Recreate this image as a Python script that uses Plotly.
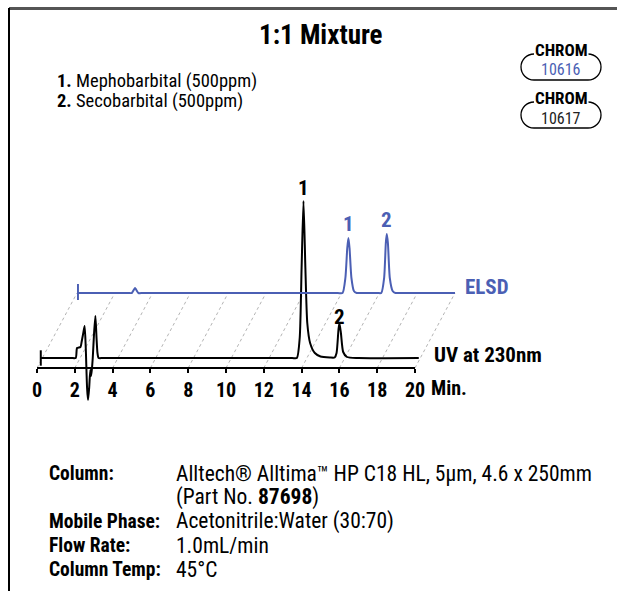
import plotly.graph_objects as go

# UV at 230nm trace (time in min, response in arbitrary units)
uv_time = [0.2, 1.8, 2.05, 2.12, 2.3, 2.36, 2.45, 2.52, 2.58, 2.65, 2.7, 2.76, 2.82, 2.86, 2.9,
           2.95, 3.02, 3.09, 3.15, 3.2, 3.26, 3.5, 13.5, 13.75, 13.9, 14.0, 14.1, 14.2, 14.3, 14.45,
           14.7, 15.0, 15.5, 15.75, 15.85, 15.95, 16.0, 16.08, 16.2, 16.4, 17.0, 20.2]
uv_resp = [0, 0, 0, 10, 11, 16, 25, 32, 10, -30, -42, -30, -12, -18, -12,
           0, 25, 42, 20, 5, 0, 0, 0, 0, 20, 90, 157, 90, 35, 15,
           5, 1.5, 0.5, 0.5, 5, 28, 35, 25, 6, 1, 0, 0]

# ELSD trace
elsd_time = [0.05, 2.7, 2.9, 3.0, 3.07, 3.14, 3.25, 3.5, 13.8, 14.05, 14.2, 14.3, 14.36, 14.42, 14.52,
             14.65, 14.8, 15.0, 15.9, 16.1, 16.25, 16.34, 16.39, 16.45, 16.55, 16.7, 16.85, 17.1, 20.0]
elsd_resp = [0, 0, 0, 3, 5, 3, 0, 0, 0, 0, 15, 45, 55, 45, 15,
             2, 0, 0, 0, 0, 15, 50, 59, 50, 15, 2, 0, 0, 0]

tick_vals = [0, 2, 4, 6, 8, 10, 12, 14, 16, 18, 20]

peak_names = ["1", "2"]
uv_peak_time = [14.1, 16.0]
uv_peak_resp = [157, 35]
elsd_peak_time = [14.36, 16.39]
elsd_peak_resp = [55, 59]

compounds = ["Mephobarbital (500ppm)", "Secobarbital (500ppm)"]
chrom_ids = ["10616", "10617"]

spec_labels = ["Column:", "", "Mobile Phase:", "Flow Rate:", "Column Temp:"]
spec_values = ["Alltech® Alltima™ HP C18 HL, 5µm, 4.6 x 250mm",
               "(Part No. <b>87698</b>)",
               "Acetonitrile:Water (30:70)",
               "1.0mL/min",
               "45°C"]

BLUE = "#4b5fb4"
FONT = "Roboto Condensed, Liberation Sans Narrow, Arial Narrow, sans-serif"

# page geometry (pixels)
W, H = 617, 591
T0_X, PPM = 37, 18.9          # x of t=0, pixels per minute
X_RIGHT = 475
AXIS_Y = 368
UV_BASE_Y, UV_TOP, UV_BOT = 358, 150, 410
ELSD_DX = 40
ELSD_BASE_Y, ELSD_TOP, ELSD_BOT = 293, 205, 300


def fx(px):
    return px / W


def fy(py):
    return 1 - py / H


def note(x, y, text, size, color="black", xanchor="left", **kw):
    return dict(xref="paper", yref="paper", x=fx(x), y=fy(y), xanchor=xanchor, yanchor="middle",
                text=text, showarrow=False, font=dict(family=FONT, size=size, color=color), **kw)


fig = go.Figure()

fig.add_trace(go.Scatter(
    x=uv_time, y=uv_resp, mode="lines", line=dict(color="black", width=2, shape="spline", smoothing=0.6),
    xaxis="x", yaxis="y", hoverinfo="skip"))
fig.add_trace(go.Scatter(
    x=uv_time[:1], y=uv_resp[:1], mode="markers",
    marker=dict(symbol="line-ns-open", size=11, color="black", line=dict(color="black", width=2)),
    xaxis="x", yaxis="y", hoverinfo="skip"))

fig.add_trace(go.Scatter(
    x=elsd_time, y=elsd_resp, mode="lines", line=dict(color=BLUE, width=2, shape="spline", smoothing=0.6),
    xaxis="x2", yaxis="y2", hoverinfo="skip"))
fig.add_trace(go.Scatter(
    x=elsd_time[:1], y=elsd_resp[:1], mode="markers",
    marker=dict(symbol="line-ns-open", size=13, color=BLUE, line=dict(color=BLUE, width=2)),
    xaxis="x2", yaxis="y2", hoverinfo="skip"))

shapes = []
# frame: grey top rule and black left rule
shapes.append(dict(type="line", xref="paper", yref="paper", x0=fx(9), x1=1, y0=fy(8.5), y1=fy(8.5),
                   line=dict(color="#555555", width=3)))
shapes.append(dict(type="line", xref="paper", yref="paper", x0=fx(9), x1=fx(9), y0=fy(8), y1=0,
                   line=dict(color="black", width=2)))
# time axis line
shapes.append(dict(type="line", xref="x", yref="paper", x0=tick_vals[0], x1=tick_vals[-1],
                   y0=fy(AXIS_Y), y1=fy(AXIS_Y), line=dict(color="black", width=2)))
# dashed perspective guides from UV axis to ELSD baseline
shift = ELSD_DX / PPM
for t in tick_vals:
    shapes.append(dict(type="line", xref="x", yref="paper", x0=t, x1=t + shift,
                       y0=fy(AXIS_Y), y1=fy(ELSD_BASE_Y), layer="below",
                       line=dict(color="#b4b4b4", width=1, dash="3px,3px")))

# CHROM badges
annotations = []
k = 0.5523
for i, cid in enumerate(chrom_ids):
    L, R = 521, 601
    T = 54 + i * 48
    B = T + 26
    r = (B - T) / 2
    kr = k * r
    pts = [
        ("M", [(L + r, T)]),
        ("C", [(L + r - kr, T), (L, T + r - kr), (L, T + r)]),
        ("C", [(L, T + r + kr), (L + r - kr, B), (L + r, B)]),
        ("L", [(R - r, B)]),
        ("C", [(R - r + kr, B), (R, T + r + kr), (R, T + r)]),
        ("C", [(R, T + r - kr), (R - r + kr, T), (R - r, T)]),
    ]
    path = " ".join(c + " " + " ".join(f"{fx(a):.5f},{fy(b):.5f}" for a, b in p) for c, p in pts)
    shapes.append(dict(type="path", xref="paper", yref="paper", path=path,
                       line=dict(color="black", width=1.3)))
    annotations.append(note((L + R) / 2, T - 4, "<b>CHROM</b>", 17, xanchor="center",
                            bgcolor="white", borderpad=0))
    annotations.append(note((L + R) / 2, T + 16, cid, 16, xanchor="center", borderpad=0,
                            color=BLUE if i == 0 else "#222222"))

# title and compound list
annotations.append(note(320.5, 35, "<b>1:1 Mixture</b>", 27, xanchor="center"))
for i, name in enumerate(compounds):
    annotations.append(note(55, 81 + 20 * i, f"<b>{i + 1}.</b> {name}", 18.5))

# peak labels
for n, t, v, ys in zip(peak_names, uv_peak_time, uv_peak_resp, [-1, -8]):
    annotations.append(dict(xref="x", yref="y", x=t, y=v, yanchor="bottom", yshift=ys, text=f"<b>{n}</b>",
                            showarrow=False, font=dict(family=FONT, size=21, color="black")))
for n, t, v in zip(peak_names, elsd_peak_time, elsd_peak_resp):
    annotations.append(dict(xref="x2", yref="y2", x=t, y=v, yanchor="bottom", yshift=0, text=f"<b>{n}</b>",
                            showarrow=False, font=dict(family=FONT, size=21, color=BLUE)))

# trace labels
annotations.append(dict(xref="x2", yref="y2", x=elsd_time[-1], y=0, xanchor="left", yanchor="middle",
                        xshift=8, yshift=6, text="<b>ELSD</b>", showarrow=False,
                        font=dict(family=FONT, size=21, color=BLUE)))
annotations.append(dict(xref="x", yref="y", x=tick_vals[-1], y=0, xanchor="left", yanchor="middle",
                        xshift=17, yshift=3, text="<b>UV at 230nm</b>", showarrow=False,
                        font=dict(family=FONT, size=21, color="black")))
annotations.append(dict(xref="x", yref="paper", x=tick_vals[-1], y=fy(AXIS_Y), xanchor="left",
                        yanchor="middle", xshift=14, yshift=-20, text="<b>Min.</b>", showarrow=False,
                        font=dict(family=FONT, size=20, color="black")))

# method conditions
for i, (lab, val) in enumerate(zip(spec_labels, spec_values)):
    yy = 473 + 24 * i
    if lab:
        annotations.append(note(47, yy, f"<b>{lab}</b>", 19.5))
    annotations.append(note(174, yy, val, 21.5))

fig.update_layout(
    width=W, height=H, autosize=False,
    margin=dict(l=0, r=0, t=0, b=0, pad=0, autoexpand=False),
    paper_bgcolor="white", plot_bgcolor="rgba(0,0,0,0)",
    showlegend=False,
    shapes=shapes, annotations=annotations,
    xaxis=dict(domain=[fx(T0_X), fx(X_RIGHT)], range=[0, (X_RIGHT - T0_X) / PPM],
               anchor="free", position=fy(AXIS_Y), tickvals=tick_vals, ticks="outside",
               ticklen=4, tickwidth=1.5, tickcolor="black", showline=False, showgrid=False,
               zeroline=False, fixedrange=True, automargin=False,
               tickfont=dict(family=FONT, size=20, color="black", weight="bold")),
    yaxis=dict(domain=[fy(UV_BOT), fy(UV_TOP)], range=[-(UV_BOT - UV_BASE_Y), UV_BASE_Y - UV_TOP],
               visible=False, fixedrange=True, automargin=False),
    xaxis2=dict(domain=[fx(T0_X + ELSD_DX), fx(T0_X + ELSD_DX + 20 * PPM)], range=[0, 20],
                anchor="y2", visible=False, fixedrange=True, automargin=False),
    yaxis2=dict(domain=[fy(ELSD_BOT), fy(ELSD_TOP)], range=[-(ELSD_BOT - ELSD_BASE_Y), ELSD_BASE_Y - ELSD_TOP],
                anchor="x2", visible=False, fixedrange=True, automargin=False),
)

fig.write_html("out.html", config=dict(displayModeBar=False),
               post_script="document.documentElement.style.margin='0';"
                           "document.body.style.margin='0';"
                           "document.documentElement.style.overflow='hidden';"
                           "document.body.style.overflow='hidden';")
